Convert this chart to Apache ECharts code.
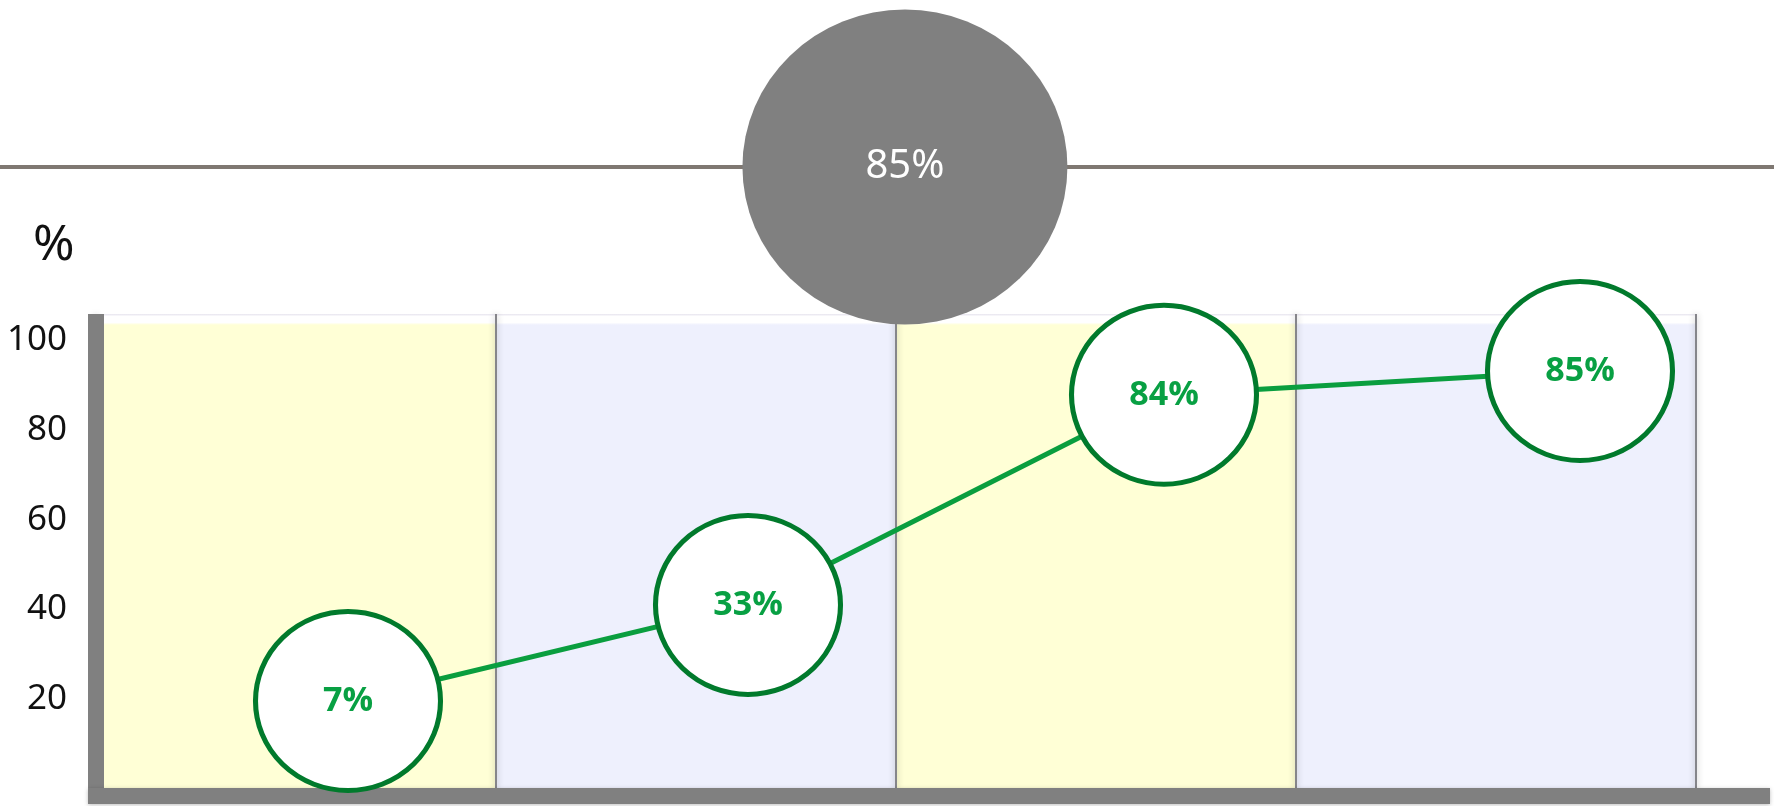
<!DOCTYPE html>
<html>
<head>
<meta charset="utf-8">
<style>
  html, body { margin: 0; padding: 0; background: #ffffff; }
  #chart { width: 1774px; height: 806px; }
</style>
<script src="https://cdn.jsdelivr.net/npm/echarts@6/dist/echarts.min.js"></script>
</head>
<body>
<div id="chart"></div>
<script>
// ---- data ----
const categories = ['Stage 1', 'Stage 2', 'Stage 3', 'Stage 4'];
const percentValues = [7, 33, 84, 85];          // labels shown in the green circles
const markerLevels = [19.6, 41.0, 87.8, 93.1];   // where the circles sit on the left axis
const markerSlots = [0.63, 1.63, 2.67, 3.71];    // where the circles sit along the four bands (0..4)
const overallValue = 85;                          // value in the grey header circle
const yTickLabels = [20, 40, 60, 80, 100];
const yAxisTop = 105.8;

const bandColors = ['#ffffd6', '#eef0fd'];

const chart = echarts.init(document.getElementById('chart'), null, { renderer: 'canvas' });

function bandFill(c) {
  return new echarts.graphic.LinearGradient(0, 0, 0, 1, [
    { offset: 0, color: '#e6e4ee' },
    { offset: 0.005, color: '#ffffff' },
    { offset: 0.018, color: '#ffffff' },
    { offset: 0.023, color: c },
    { offset: 1, color: c }
  ]);
}

const option = {
  backgroundColor: '#ffffff',
  animation: false,
  title: {
    text: '%',
    left: 28,
    top: 216,
    textStyle: { fontFamily: 'Noto Sans', fontSize: 50, fontWeight: 'normal', color: '#111111' }
  },
  grid: [
    { left: 96, right: 78, top: 314, bottom: 806 - 789, containLabel: false },
    { left: 88, right: 4, top: 314, bottom: 806 - 796, containLabel: false },
    { left: 0, right: 0, top: 160, height: 14, containLabel: false }
  ],
  xAxis: [
    {
      type: 'category', gridIndex: 0, data: categories, boundaryGap: true, z: 2,
      axisLine: { show: false }, axisTick: { show: false }, axisLabel: { show: false },
      splitLine: { show: true, lineStyle: { color: '#85858a', width: 2,
        shadowColor: 'rgba(0,0,0,0.3)', shadowBlur: 6 } }
    },
    { type: 'value', gridIndex: 0, min: 0, max: 4, show: false },
    {
      type: 'value', gridIndex: 1, min: 0, max: 1, z: 3,
      axisLine: { show: true, lineStyle: { color: '#808080', width: 16, cap: 'butt',
        shadowColor: 'rgba(0,0,0,0.25)', shadowBlur: 4, shadowOffsetY: 1 } },
      axisTick: { show: false }, axisLabel: { show: false }, splitLine: { show: false }
    },
    { type: 'value', gridIndex: 2, min: 0, max: 1, show: false }
  ],
  yAxis: [
    {
      type: 'value', gridIndex: 0, min: 0, max: yAxisTop, interval: 20, z: 3,
      axisLine: { show: true, lineStyle: { color: '#808080', width: 16, cap: 'butt' } },
      axisTick: { show: false },
      splitLine: { show: false },
      axisLabel: {
        margin: 29,
        fontFamily: 'Noto Sans', fontSize: 35, color: '#111111',
        formatter: function (v) { return yTickLabels.indexOf(v) >= 0 ? String(v) : ''; }
      }
    },
    { type: 'value', gridIndex: 1, min: 0, max: 1, show: false },
    { type: 'value', gridIndex: 2, min: 0, max: 1, show: false }
  ],
  series: [
    {
      name: 'bands', type: 'bar', xAxisIndex: 0, yAxisIndex: 0, z: 1,
      barWidth: '100%', barGap: '0%', silent: true,
      data: categories.map(function (c, i) {
        return { value: yAxisTop, itemStyle: { color: bandFill(bandColors[i % 2]) } };
      })
    },
    {
      name: 'progress', type: 'line', xAxisIndex: 1, yAxisIndex: 0, z: 5, clip: false,
      data: markerSlots.map(function (x, i) { return [x, markerLevels[i]]; }),
      symbol: 'circle', symbolSize: [185, 179],
      lineStyle: { color: '#0a9e3f', width: 5, cap: 'butt' },
      itemStyle: { color: '#ffffff', borderColor: '#017a2c', borderWidth: 5, opacity: 1 },
      label: {
        show: true, position: 'inside',
        fontFamily: 'Open Sans', fontWeight: 'bold', fontSize: 34, color: '#08a043',
        formatter: function (p) { return percentValues[p.dataIndex] + '%'; }
      }
    },
    {
      name: 'rule', type: 'line', xAxisIndex: 3, yAxisIndex: 2, z: 8, clip: false,
      symbol: 'none', silent: true,
      data: [[0, 0.5], [1, 0.5]],
      lineStyle: { color: '#7f7872', width: 4, cap: 'butt' }
    },
    {
      name: 'overall', type: 'scatter', xAxisIndex: 3, yAxisIndex: 2, z: 10, clip: false,
      data: [[0.5101, 0.5]],
      symbol: 'circle', symbolSize: [325, 315],
      itemStyle: { color: '#808080', opacity: 1 },
      label: {
        show: true, position: 'inside',
        fontFamily: 'Noto Sans', fontSize: 40, color: '#ffffff',
        formatter: function () { return overallValue + '%'; }
      }
    }
  ]
};

chart.setOption(option);
</script>
</body>
</html>
